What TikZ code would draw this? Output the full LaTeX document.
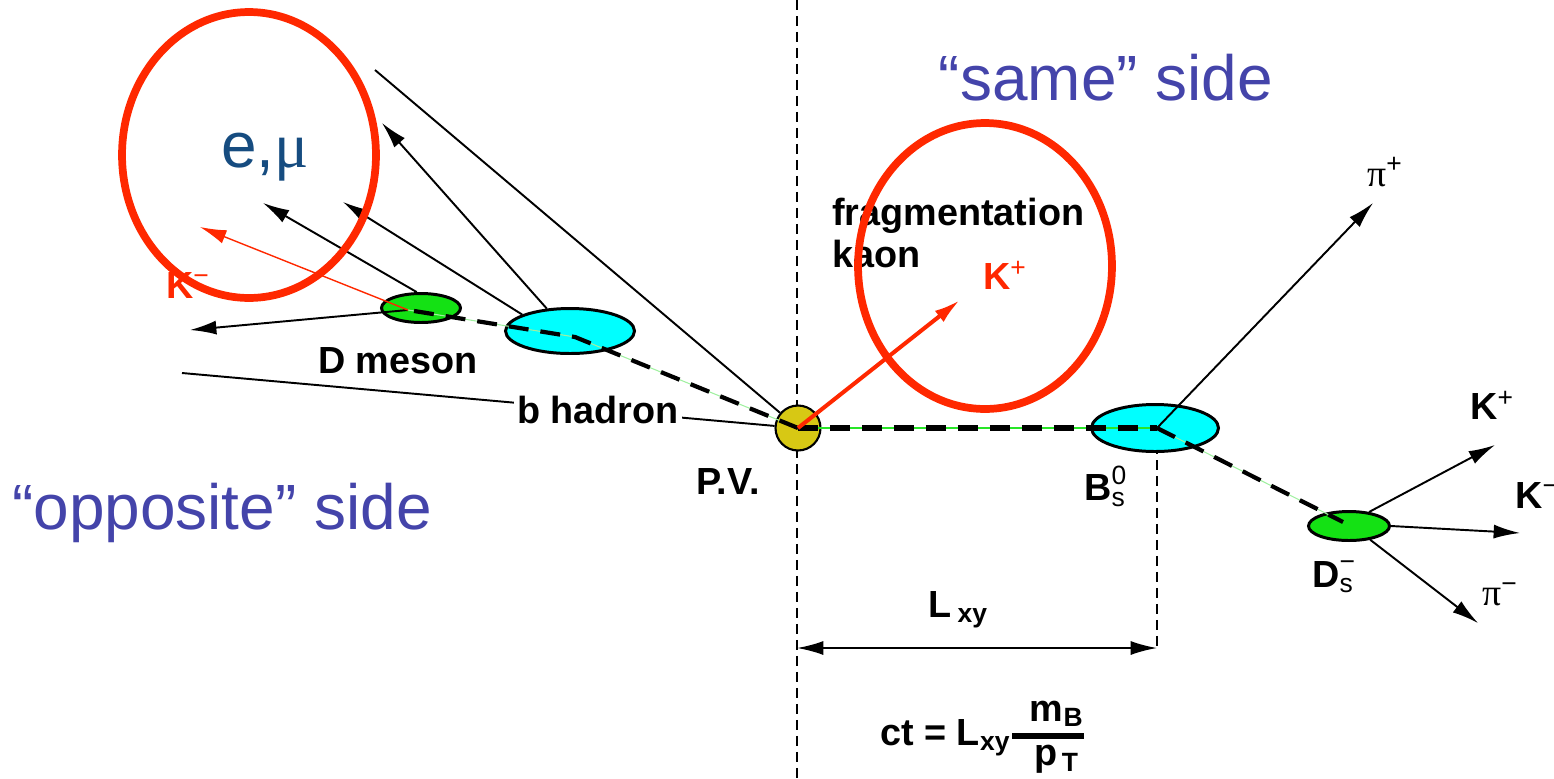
\documentclass[tikz,border=0pt]{standalone}
\usepackage{amsmath}
\usepackage{fontspec}
\setmainfont{Liberation Sans}
\newfontfamily\grk{Liberation Serif}
\usetikzlibrary{shapes.geometric,arrows.meta}
\definecolor{sideblue}{RGB}{68,68,170}
\definecolor{lepblue}{RGB}{22,76,128}
\definecolor{ringred}{RGB}{255,40,0}
\definecolor{dgreen}{RGB}{20,225,20}
\definecolor{bcyan}{RGB}{0,255,255}
\definecolor{vertexyellow}{RGB}{215,200,20}
\definecolor{trailgreen}{RGB}{40,230,40}
\definecolor{palegreen}{RGB}{160,240,160}

\begin{document}
\begin{tikzpicture}[x=0.02cm, y=-0.02cm,
    txt/.style={font=\fontsize{21.5}{23.8}\selectfont\bfseries, inner sep=0pt},
    big/.style={font=\fontsize{36.4}{40}\selectfont, text=sideblue, inner sep=0pt},
    blob/.style={ellipse, draw, line width=1.7pt},
    ring/.style={ellipse, draw=ringred, line width=4.4pt, minimum width=5.08cm, minimum height=5.72cm},
    track/.style={line width=1.1pt, -{Latex[length=15pt,width=8pt]}},
    flight/.style={line width=3pt, dash pattern=on 0.4cm off 0.24cm},
    axis/.style={line width=0.8pt, dash pattern=on 0.2cm off 0.12cm}]
    \useasboundingbox (0,0) rectangle (1554,778);

    \coordinate (pvc) at (798,428);
    \coordinate (bv) at (575,337);
    \coordinate (dv) at (408,310);
    \coordinate (bsv) at (1157,428);
    \coordinate (dsv) at (1343,522);
    \coordinate (axtop) at (797,0);
    \coordinate (axbot) at (797,778);
    \coordinate (lxya) at (797,648);
    \coordinate (lxyb) at (1157,648);

    \draw [axis] (axtop) -- (axbot);
    \draw [axis] (bsv) -- (lxyb);

    \node (pv) [circle, draw, line width=1.2pt, fill=vertexyellow, minimum size=0.9cm, inner sep=0pt] at (pvc) {};
    \node (bhadron) [blob, fill=bcyan, minimum width=2.58cm, minimum height=0.9cm] at (570,331) {};
    \node (dmeson) [blob, fill=dgreen, minimum width=1.58cm, minimum height=0.58cm] at (421,308) {};
    \node (bs) [blob, fill=bcyan, minimum width=2.54cm, minimum height=0.94cm] at (1155,428) {};
    \node (ds) [blob, fill=dgreen, minimum width=1.62cm, minimum height=0.58cm] at (1349,526) {};

    \coordinate (trk1) at (263,203);
    \coordinate (trk2) at (343,202);
    \coordinate (trk3) at (382,123);
    \coordinate (trkleft) at (190,330);
    \coordinate (kminus) at (200,227);
    \coordinate (far1) at (375,70);
    \coordinate (far2) at (182,373);
    \coordinate (piplus) at (1373,203);
    \coordinate (kplus) at (1495,445);
    \coordinate (kminusb) at (1520,533);
    \coordinate (piminus) at (1478,623);
    \coordinate (kfrag) at (960,300);

    \draw [line width=1.1pt] (far1) -- (pv);
    \draw [line width=1.1pt] (far2) -- (pv);
    \draw [track] (dmeson.105) -- (trk1);
    \draw [track] (bhadron.161) -- (trk2);
    \draw [track] (bhadron.136) -- (trk3);
    \draw [track] (dv) -- (trkleft);
    \draw [track, ringred, line width=0.8pt] (dv) -- (kminus);
    \draw [track] (bsv) -- (piplus);
    \draw [track] (ds.35) -- (kplus);
    \draw [track] (ds.east) -- (kminusb);
    \draw [track] (ds.-33) -- (piminus);

    \draw [trailgreen, line width=0.8pt] (pvc) -- (bsv);
    \draw [palegreen, line width=0.6pt] (bsv) -- (dsv) (pvc) -- (bv) -- (dv);
    \draw [flight] (pvc) -- (bsv);
    \draw [flight, line width=2.4pt] (bsv) -- (dsv);
    \draw [flight, line width=2.4pt] (pvc) -- (bv) -- (dv);
    \draw [track, ringred, line width=2.3pt] (pvc) -- (kfrag);

    \draw [line width=1.1pt, {Latex[length=15pt,width=8pt]}-{Latex[length=15pt,width=8pt]}] (lxya) -- (lxyb);

    \node (dlabel) [txt] at (398,361) {D meson};
    \node (blabel) [txt, fill=white, inner sep=2pt] at (598,410) {b hadron};
    \node (pvlabel) [txt] at (728,481) {P.V.};
    \node (fraglabel) [txt, align=left, anchor=north west] at (832,198) {fragmentation\\kaon};
    \node (kfraglabel) [txt, text=ringred] at (1005,275) {K\textsuperscript{\mdseries +}};
    \node (kminuslabel) [txt, text=ringred] at (188,285) {K\textsuperscript{\mdseries −}};
    \node (bslabel) [txt] at (1105,486) {B\rlap{\raisebox{2pt}{\textsuperscript{\mdseries 0}}}\textsubscript{\mdseries s}};
    \node (dslabel) [txt] at (1333,577) {D\rlap{\raisebox{2pt}{\textsuperscript{\mdseries −}}}\textsubscript{\mdseries s}};
    \node (pipluslabel) [txt] at (1385,172) {{\grk\mdseries π}\textsuperscript{\mdseries +}};
    \node (kpluslabel) [txt] at (1492,405) {K\textsuperscript{\mdseries +}};
    \node (kminuslabelb) [txt] at (1537,495) {K\textsuperscript{\mdseries −}};
    \node (piminuslabel) [txt] at (1500,594) {{\grk\mdseries π}\textsuperscript{\mdseries −}};
    \node (lxylabel) [txt] at (958,610) {L\,\textsubscript{xy}};
    \node (ct) [txt] at (983,737) {ct = L\textsubscript{xy}$\genfrac{}{}{3.5pt}{1}{\textstyle\text{\bfseries\hspace{0.35cm}m\textsubscript{B}}}{\textstyle\text{\bfseries\hspace{0.35cm}p\textsubscript{\,T}}}$};

    \node (lepton) [big, text=lepblue] at (265,157) {e,{\grk μ}};
    \node (same) [big] at (1106,78) {“same” side};
    \node (opposite) [big] at (222,513) {“opposite” side};

    \node (lepring) [ring] at (249,155) {};
    \node (kaonring) [ring] at (985,266) {};
\end{tikzpicture}
\end{document}
